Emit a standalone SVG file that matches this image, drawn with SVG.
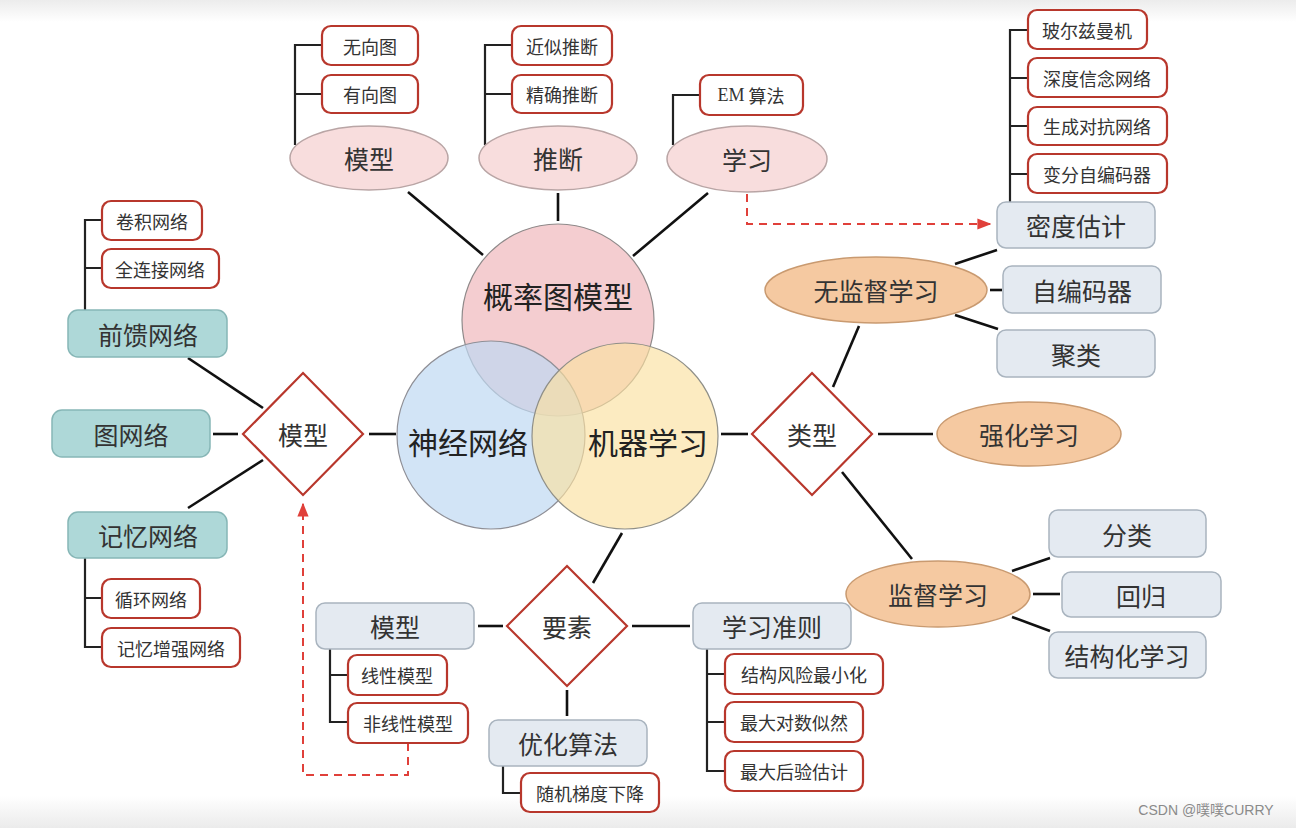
<svg xmlns="http://www.w3.org/2000/svg" width="1296" height="828" viewBox="0 0 1296 828">
<defs>
<linearGradient id="topband" x1="0" y1="0" x2="0" y2="1"><stop offset="0" stop-color="#ececec"/><stop offset="1" stop-color="#ffffff"/></linearGradient>
<linearGradient id="botband" x1="0" y1="0" x2="0" y2="1"><stop offset="0" stop-color="#ffffff"/><stop offset="1" stop-color="#ebebeb"/></linearGradient>
<marker id="arr" viewBox="0 0 10 10" refX="9" refY="5" markerWidth="7" markerHeight="7" orient="auto"><path d="M0,1 L10,5 L0,9 z" fill="#e0403a"/></marker>
</defs>
<style>
text{font-family:"Noto Sans CJK SC","Liberation Serif",serif;fill:#333;text-anchor:middle;dominant-baseline:central}
.s{font-size:18px}
.m{font-size:25px}
.l{font-size:30px;fill:#222}
.red{fill:#fff;stroke:#b8372c;stroke-width:2.2}
.teal{fill:#aed8d8;stroke:#86b6b6;stroke-width:1.5}
.gray{fill:#e4eaf1;stroke:#a9b4bf;stroke-width:1.5}
.pink{fill:#f8dddd;stroke:#b9a5a5;stroke-width:1.5}
.orange{fill:#f5c9a1;stroke:#c99a70;stroke-width:1.5}
.dia{fill:#fff;stroke:#b8372c;stroke-width:2.2}
.ln{stroke:#111;stroke-width:2.6;fill:none}
.br{stroke:#222;stroke-width:2.2;fill:none}
.dash{stroke:#e0403a;stroke-width:2;stroke-dasharray:8 6;fill:none}
</style>
<rect width="1296" height="828" fill="#fff"/>
<rect width="1296" height="22" fill="url(#topband)"/>
<rect y="796" width="1296" height="32" fill="url(#botband)"/>

<g id="connectors">
<line class="ln" x1="408" y1="192" x2="483" y2="255"/>
<line class="ln" x1="558" y1="193" x2="558" y2="221"/>
<line class="ln" x1="708" y1="193" x2="633" y2="256"/>
<path class="br" d="M295,145 V45 H322 M295,94 H322"/>
<path class="br" d="M485,145 V45 H512 M485,94 H512"/>
<path class="br" d="M673,145 V95 H700"/>
<path class="br" d="M1010,203 V30 H1028 M1010,78 H1028 M1010,126 H1028 M1010,174 H1028"/>
<path class="dash" d="M747,194 V224 H990" marker-end="url(#arr)"/>
<path class="br" d="M85,310 V220 H102 M85,268 H102"/>
<path class="br" d="M85,558 V647 H102 M85,598 H102"/>
<line class="ln" x1="188" y1="358" x2="263" y2="408"/>
<line class="ln" x1="213" y1="434" x2="238" y2="434"/>
<line class="ln" x1="188" y1="508" x2="263" y2="460"/>
<line class="ln" x1="369" y1="434" x2="396" y2="434"/>
<path class="dash" d="M408,743 V775 H303 V504" marker-end="url(#arr)"/>
<line class="ln" x1="622" y1="533" x2="593" y2="583"/>
<line class="ln" x1="478" y1="626" x2="503" y2="626"/>
<line class="ln" x1="632" y1="626" x2="690" y2="626"/>
<line class="ln" x1="567" y1="690" x2="567" y2="716"/>
<path class="br" d="M330,649 V722 H348 M330,675 H348"/>
<path class="br" d="M707,649 V771 H725 M707,674 H725 M707,722 H725"/>
<path class="br" d="M503,766 V793 H521"/>
<line class="ln" x1="721" y1="434" x2="748" y2="434"/>
<line class="ln" x1="833" y1="387" x2="859" y2="326"/>
<line class="ln" x1="878" y1="434" x2="933" y2="434"/>
<line class="ln" x1="842" y1="472" x2="912" y2="559"/>
<line class="ln" x1="955" y1="264" x2="997" y2="250"/>
<line class="ln" x1="990" y1="290" x2="1002" y2="290"/>
<line class="ln" x1="955" y1="315" x2="998" y2="329"/>
<line class="ln" x1="1012" y1="571" x2="1050" y2="558"/>
<line class="ln" x1="1033" y1="594" x2="1060" y2="594"/>
<line class="ln" x1="1012" y1="617" x2="1050" y2="631"/>
</g>

<g id="venn">
<circle cx="558" cy="320" r="96" fill="#f1c1c4" fill-opacity="0.8" stroke="#8f8a8a" stroke-width="1.2"/>
<circle cx="491" cy="435" r="94" fill="#bfd8f2" fill-opacity="0.7" stroke="#8f8f96" stroke-width="1.2"/>
<circle cx="625" cy="436" r="93" fill="#fbe1a0" fill-opacity="0.65" stroke="#8f8f88" stroke-width="1.2"/>
</g>
<g id="n-pgm"><text class="l" x="558" y="295">概率图模型</text></g>
<g id="n-nn"><text class="l" x="468" y="441">神经网络</text></g>
<g id="n-ml"><text class="l" x="648" y="441">机器学习</text></g>

<g id="n-top-model"><ellipse class="pink" cx="369" cy="158" rx="79" ry="32"/><text class="m" x="369" y="158">模型</text></g>
<g id="n-top-infer"><ellipse class="pink" cx="558" cy="158" rx="79" ry="32"/><text class="m" x="558" y="158">推断</text></g>
<g id="n-top-learn"><ellipse class="pink" cx="747" cy="159" rx="80" ry="33"/><text class="m" x="747" y="159">学习</text></g>

<g id="n-wuxiang"><rect class="red" x="322" y="26" width="96" height="39" rx="9"/><text class="s" x="370" y="45.5">无向图</text></g>
<g id="n-youxiang"><rect class="red" x="322" y="75" width="96" height="38" rx="9"/><text class="s" x="370" y="94">有向图</text></g>
<g id="n-jinsi"><rect class="red" x="512" y="26" width="100" height="39" rx="9"/><text class="s" x="562" y="45.5">近似推断</text></g>
<g id="n-jingque"><rect class="red" x="512" y="75" width="100" height="38" rx="9"/><text class="s" x="562" y="94">精确推断</text></g>
<g id="n-em"><rect class="red" x="700" y="75" width="103" height="40" rx="9"/><text class="s" x="751" y="95"><tspan font-family="Liberation Serif">EM</tspan> 算法</text></g>

<g id="n-boltz"><rect class="red" x="1028" y="10" width="119" height="39" rx="9"/><text class="s" x="1087" y="29.5">玻尔兹曼机</text></g>
<g id="n-dbn"><rect class="red" x="1028" y="58" width="139" height="39" rx="9"/><text class="s" x="1097" y="77.5">深度信念网络</text></g>
<g id="n-gan"><rect class="red" x="1028" y="107" width="139" height="38" rx="9"/><text class="s" x="1097" y="126">生成对抗网络</text></g>
<g id="n-vae"><rect class="red" x="1028" y="154" width="139" height="39" rx="9"/><text class="s" x="1097" y="173.5">变分自编码器</text></g>
<g id="n-density"><rect class="gray" x="997" y="202" width="158" height="46" rx="9"/><text class="m" x="1076" y="225">密度估计</text></g>

<g id="n-conv"><rect class="red" x="102" y="201" width="100" height="39" rx="9"/><text class="s" x="152" y="220.5">卷积网络</text></g>
<g id="n-fc"><rect class="red" x="102" y="249" width="117" height="39" rx="9"/><text class="s" x="160" y="268.5">全连接网络</text></g>
<g id="n-ffn"><rect class="teal" x="68" y="310" width="159" height="47" rx="10"/><text class="m" x="148" y="333.5">前馈网络</text></g>
<g id="n-gnn"><rect class="teal" x="52" y="410" width="158" height="47" rx="10"/><text class="m" x="131" y="433.5">图网络</text></g>
<g id="n-mem"><rect class="teal" x="68" y="512" width="159" height="46" rx="10"/><text class="m" x="148" y="535">记忆网络</text></g>
<g id="n-rnn"><rect class="red" x="102" y="579" width="98" height="39" rx="9"/><text class="s" x="151" y="598.5">循环网络</text></g>
<g id="n-mann"><rect class="red" x="102" y="628" width="138" height="39" rx="9"/><text class="s" x="171" y="647.5">记忆增强网络</text></g>
<g id="n-dia-model"><polygon class="dia" points="303,373 363,434 303,495 243,434"/><text class="m" x="303" y="434">模型</text></g>

<g id="n-dia-elem"><polygon class="dia" points="567,566 627,626 567,686 507,626"/><text class="m" x="567" y="626">要素</text></g>
<g id="n-b-model"><rect class="gray" x="316" y="603" width="158" height="46" rx="9"/><text class="m" x="395" y="626">模型</text></g>
<g id="n-linear"><rect class="red" x="348" y="655" width="99" height="40" rx="9"/><text class="s" x="397" y="675">线性模型</text></g>
<g id="n-nonlinear"><rect class="red" x="348" y="703" width="120" height="40" rx="9"/><text class="s" x="408" y="723">非线性模型</text></g>
<g id="n-criteria"><rect class="gray" x="693" y="603" width="158" height="46" rx="9"/><text class="m" x="772" y="626">学习准则</text></g>
<g id="n-srm"><rect class="red" x="725" y="654" width="158" height="40" rx="9"/><text class="s" x="804" y="674">结构风险最小化</text></g>
<g id="n-mle"><rect class="red" x="725" y="702" width="138" height="40" rx="9"/><text class="s" x="794" y="722">最大对数似然</text></g>
<g id="n-map"><rect class="red" x="725" y="751" width="138" height="40" rx="9"/><text class="s" x="794" y="771">最大后验估计</text></g>
<g id="n-opt"><rect class="gray" x="489" y="720" width="158" height="46" rx="9"/><text class="m" x="568" y="743">优化算法</text></g>
<g id="n-sgd"><rect class="red" x="521" y="773" width="138" height="39" rx="9"/><text class="s" x="590" y="792.5">随机梯度下降</text></g>

<g id="n-dia-type"><polygon class="dia" points="812,373 872,434 812,495 752,434"/><text class="m" x="812" y="434">类型</text></g>
<g id="n-unsup"><ellipse class="orange" cx="876" cy="290" rx="111" ry="33"/><text class="m" x="876" y="290">无监督学习</text></g>
<g id="n-rl"><ellipse class="orange" cx="1029" cy="434" rx="92" ry="32"/><text class="m" x="1029" y="434">强化学习</text></g>
<g id="n-sup"><ellipse class="orange" cx="938" cy="594" rx="92" ry="33"/><text class="m" x="938" y="594">监督学习</text></g>
<g id="n-ae"><rect class="gray" x="1003" y="266" width="158" height="47" rx="9"/><text class="m" x="1082" y="289.5">自编码器</text></g>
<g id="n-cluster"><rect class="gray" x="997" y="330" width="158" height="47" rx="9"/><text class="m" x="1076" y="353.5">聚类</text></g>
<g id="n-cls"><rect class="gray" x="1049" y="510" width="157" height="47" rx="9"/><text class="m" x="1127" y="533.5">分类</text></g>
<g id="n-reg"><rect class="gray" x="1062" y="572" width="159" height="45" rx="9"/><text class="m" x="1141" y="594.5">回归</text></g>
<g id="n-struct"><rect class="gray" x="1049" y="632" width="157" height="46" rx="9"/><text class="m" x="1127" y="655">结构化学习</text></g>

<text x="1206" y="810" style="font-family:'Liberation Sans','Noto Sans CJK SC',sans-serif;font-size:14px;fill:#8a8a8a">CSDN @噗噗CURRY</text>
</svg>
